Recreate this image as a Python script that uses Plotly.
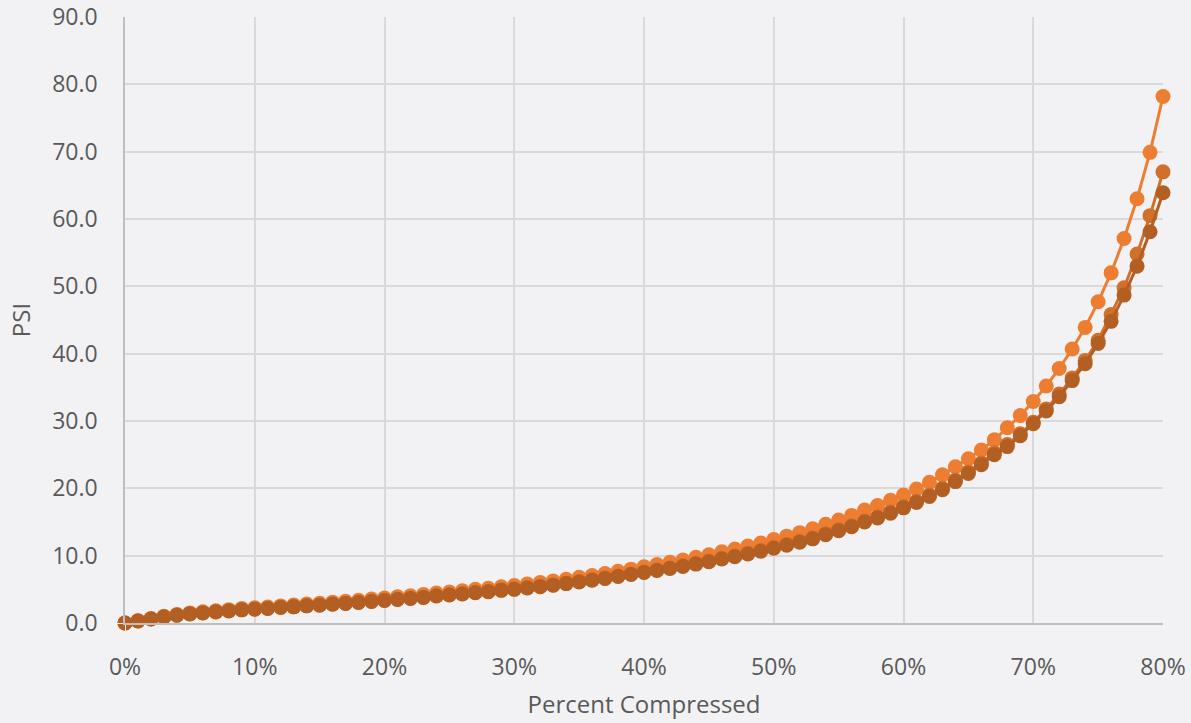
import plotly.graph_objects as go

pct = [i / 100 for i in range(81)]

series_a = [0.0, 0.33, 0.66, 1.0, 1.27, 1.5, 1.66, 1.82, 1.98, 2.14,
            2.26, 2.38, 2.54, 2.66, 2.82, 2.94, 3.1, 3.22, 3.38, 3.55,
            3.72, 3.88, 4.05, 4.22, 4.44, 4.61, 4.78, 5.0, 5.17, 5.39,
            5.56, 5.78, 6.0, 6.23, 6.5, 6.78, 7.06, 7.34, 7.67, 8.0,
            8.35, 8.68, 9.02, 9.36, 9.75, 10.14, 10.59, 10.99, 11.44, 11.89,
            12.4, 12.9, 13.42, 13.99, 14.66, 15.3, 15.98, 16.77, 17.45, 18.24,
            19.0, 19.9, 20.9, 22.0, 23.2, 24.4, 25.7, 27.2, 29.0, 30.8,
            32.9, 35.2, 37.8, 40.7, 43.9, 47.7, 52.0, 57.1, 63.0, 69.9,
            78.2]

series_b = [0.0, 0.31, 0.61, 0.92, 1.17, 1.37, 1.52, 1.67, 1.82, 1.97,
            2.08, 2.18, 2.33, 2.43, 2.58, 2.68, 2.83, 2.93, 3.08, 3.23,
            3.38, 3.54, 3.69, 3.84, 4.04, 4.19, 4.34, 4.55, 4.7, 4.9,
            5.05, 5.25, 5.45, 5.66, 5.91, 6.16, 6.41, 6.67, 6.97, 7.27,
            7.58, 7.88, 8.18, 8.49, 8.84, 9.19, 9.6, 9.95, 10.36, 10.76,
            11.21, 11.67, 12.12, 12.63, 13.24, 13.84, 14.45, 15.15, 15.77, 16.47,
            17.28, 18.09, 19.0, 20.0, 21.22, 22.44, 23.76, 25.28, 26.5, 28.1,
            29.8, 31.8, 34.0, 36.4, 39.0, 42.0, 45.8, 49.8, 54.8, 60.5,
            67.0]

series_c = [0.0, 0.3, 0.6, 0.9, 1.15, 1.35, 1.5, 1.65, 1.8, 1.95,
            2.05, 2.15, 2.3, 2.4, 2.55, 2.65, 2.8, 2.9, 3.05, 3.2,
            3.35, 3.5, 3.65, 3.8, 4.0, 4.15, 4.3, 4.5, 4.65, 4.85,
            5.0, 5.2, 5.4, 5.6, 5.85, 6.1, 6.35, 6.6, 6.9, 7.2,
            7.5, 7.8, 8.1, 8.4, 8.75, 9.1, 9.5, 9.85, 10.25, 10.65,
            11.1, 11.55, 12.0, 12.5, 13.1, 13.7, 14.3, 15.0, 15.6, 16.3,
            17.1, 17.9, 18.8, 19.8, 21.0, 22.2, 23.5, 25.0, 26.2, 27.8,
            29.6, 31.5, 33.6, 36.0, 38.5, 41.5, 44.8, 48.7, 53.0, 58.1,
            63.9]

x_ticks = [0, 0.1, 0.2, 0.3, 0.4, 0.5, 0.6, 0.7, 0.8]
y_ticks = [0, 10, 20, 30, 40, 50, 60, 70, 80, 90]

colors = ["#ED7D31", "#D0702B", "#B35E23"]
names = ["Series A", "Series B", "Series C"]

fig = go.Figure()
for ys, c, n in zip([series_a, series_b, series_c], colors, names):
    fig.add_trace(go.Scatter(
        x=pct, y=ys, mode="lines+markers", name=n,
        line=dict(color=c, width=3),
        marker=dict(color=c, size=15),
        cliponaxis=False,
    ))

bg = "#F2F2F4"
font_color = "#595959"
fam = "Open Sans, sans-serif"
fig.update_layout(
    width=1191, height=723,
    paper_bgcolor=bg, plot_bgcolor=bg,
    showlegend=False,
    margin=dict(l=125, r=28, t=17, b=100),
    font=dict(family=fam, size=23, color=font_color),
)
fig.update_xaxes(
    range=[0, 0.8], tickvals=x_ticks, tickformat=".0%",
    showgrid=True, gridcolor="#D9D9D9", gridwidth=1.5,
    showline=True, linecolor="#BFBFBF", linewidth=1.5,
    zeroline=False, ticks="outside", ticklen=23, tickcolor=bg, automargin=False,
    tickfont=dict(family=fam, size=23, color=font_color),
    title=dict(text="Percent Compressed", font=dict(family=fam, size=24, color=font_color)),
)
fig.update_yaxes(
    range=[0, 90], tickvals=y_ticks, tickformat=".1f",
    showgrid=True, gridcolor="#D9D9D9", gridwidth=1.5,
    showline=True, linecolor="#BFBFBF", linewidth=1.5,
    zeroline=False, ticks="outside", ticklen=21, tickcolor=bg, automargin=False,
    tickfont=dict(family=fam, size=23, color=font_color),
    title=dict(text="PSI", font=dict(family=fam, size=24, color=font_color)),
)

fig.write_html(
    "out.html",
    config={"displayModeBar": False},
    post_script="document.body.style.margin='0';document.body.style.background='#F2F2F4';",
)
